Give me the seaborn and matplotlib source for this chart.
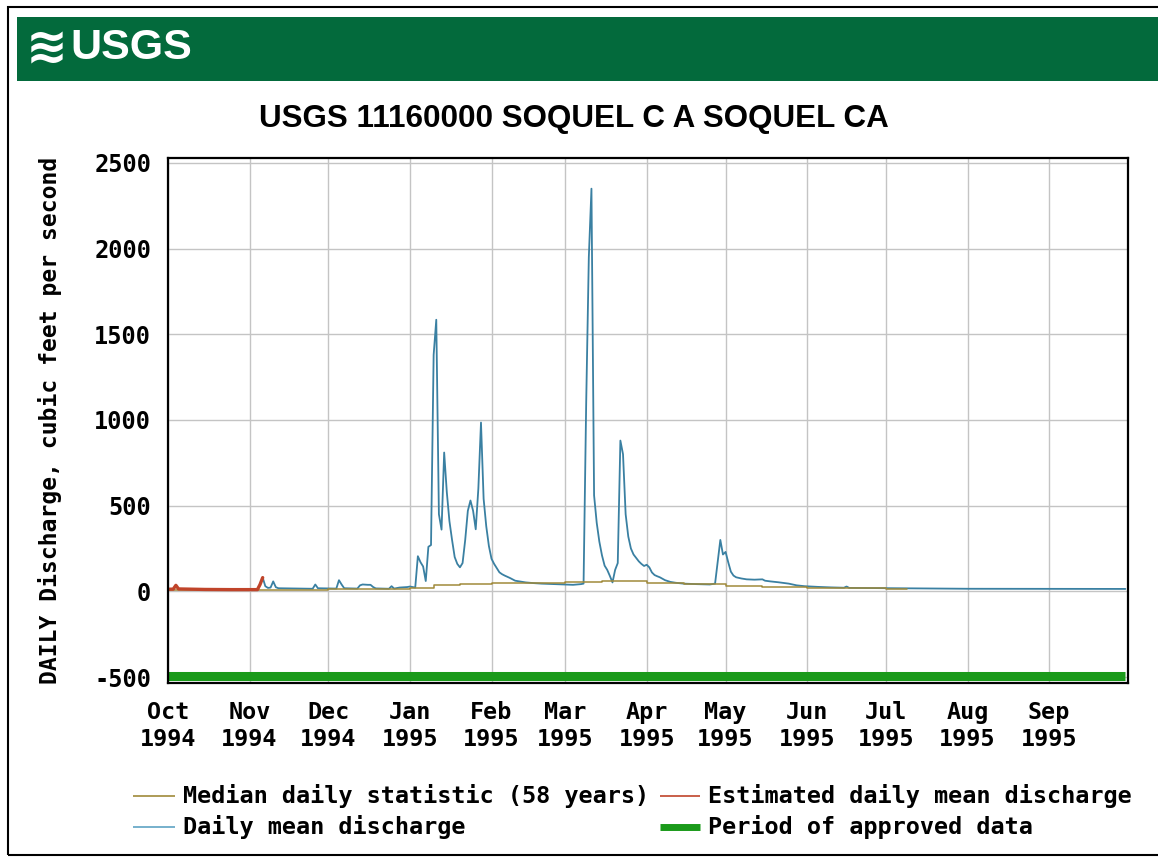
import matplotlib
matplotlib.use('Agg')
import matplotlib.pyplot as plt
import matplotlib.dates as mdates
from matplotlib.patches import Rectangle
from matplotlib.lines import Line2D
import pandas as pd
import seaborn as sns

# --- data (water year 1995, cfs) ---
est_dates = ['1994-10-01', '1994-10-03', '1994-10-04', '1994-10-05', '1994-10-15',
             '1994-10-25', '1994-11-01', '1994-11-04', '1994-11-05', '1994-11-06']
est_cfs = [12, 13, 35, 14, 11, 10, 10, 10, 40, 80]

flow_dates = [
    # Nov - Dec 1994
    '1994-11-06', '1994-11-07', '1994-11-08', '1994-11-09', '1994-11-10', '1994-11-11',
    '1994-11-12', '1994-11-25', '1994-11-26', '1994-11-27', '1994-12-04', '1994-12-05',
    '1994-12-06', '1994-12-07', '1994-12-12', '1994-12-13', '1994-12-14', '1994-12-16',
    '1994-12-17', '1994-12-18', '1994-12-19', '1994-12-24', '1994-12-25', '1994-12-26',
    '1994-12-28', '1994-12-31',
    # Jan 1995
    '1995-01-01', '1995-01-02', '1995-01-03', '1995-01-04', '1995-01-05', '1995-01-06',
    '1995-01-07', '1995-01-08', '1995-01-09', '1995-01-10', '1995-01-11', '1995-01-12',
    '1995-01-13', '1995-01-14', '1995-01-15', '1995-01-16', '1995-01-17', '1995-01-18',
    '1995-01-19', '1995-01-20', '1995-01-21', '1995-01-22', '1995-01-23', '1995-01-24',
    '1995-01-25', '1995-01-26', '1995-01-27', '1995-01-28', '1995-01-29', '1995-01-30',
    '1995-01-31',
    # Feb 1995
    '1995-02-01', '1995-02-02', '1995-02-03', '1995-02-04', '1995-02-05', '1995-02-06',
    '1995-02-07', '1995-02-08', '1995-02-09', '1995-02-10', '1995-02-12', '1995-02-14',
    '1995-02-17', '1995-02-20', '1995-02-25',
    # Mar 1995
    '1995-03-01', '1995-03-04', '1995-03-07', '1995-03-08', '1995-03-09', '1995-03-10',
    '1995-03-11', '1995-03-12', '1995-03-13', '1995-03-14', '1995-03-15', '1995-03-16',
    '1995-03-17', '1995-03-18', '1995-03-19', '1995-03-20', '1995-03-21', '1995-03-22',
    '1995-03-23', '1995-03-24', '1995-03-25', '1995-03-26', '1995-03-27', '1995-03-28',
    '1995-03-29', '1995-03-30', '1995-03-31',
    # Apr 1995
    '1995-04-01', '1995-04-02', '1995-04-03', '1995-04-04', '1995-04-05', '1995-04-06',
    '1995-04-08', '1995-04-10', '1995-04-12', '1995-04-15', '1995-04-20', '1995-04-25',
    '1995-04-27', '1995-04-28', '1995-04-29', '1995-04-30',
    # May - Sep 1995
    '1995-05-01', '1995-05-02', '1995-05-03', '1995-05-04', '1995-05-05', '1995-05-07',
    '1995-05-09', '1995-05-12', '1995-05-15', '1995-05-16', '1995-05-18', '1995-05-21',
    '1995-05-25', '1995-05-28', '1995-05-31', '1995-06-05', '1995-06-10', '1995-06-15',
    '1995-06-16', '1995-06-17', '1995-06-25', '1995-07-01', '1995-07-09', '1995-07-15',
    '1995-08-01', '1995-09-30',
]
flow_cfs = [
    80, 30, 20, 22, 58, 24,
    18, 15, 40, 18, 16, 65,
    40, 18, 16, 35, 40, 38,
    38, 25, 17, 15, 30, 16,
    22, 25,
    28, 25, 22, 205, 170, 145,
    60, 260, 270, 1380, 1585, 450,
    360, 810, 580, 410, 300, 200,
    160, 140, 165, 300, 470, 530,
    470, 362, 600, 985, 540, 380,
    265,
    190, 160, 135, 111, 100, 92,
    85, 78, 70, 62, 57, 52,
    48, 45, 42,
    40, 38, 42, 45, 1100, 1950,
    2350, 560, 400, 290, 210, 150,
    125, 90, 52, 125, 165, 880,
    800, 450, 320, 250, 215, 195,
    175, 160, 148,
    155, 140, 110, 95, 88, 82,
    65, 55, 50, 45, 42, 40,
    45, 170, 300, 215,
    230, 170, 115, 92, 82, 75,
    70, 68, 70, 62, 58, 53,
    45, 35, 30, 26, 23, 21,
    28, 20, 19, 18, 17, 16,
    15, 14,
]

median_dates = ['1994-10-01', '1994-11-01', '1994-12-01', '1994-12-15', '1995-01-01',
                '1995-01-10', '1995-01-20', '1995-02-01', '1995-02-15', '1995-03-01',
                '1995-03-15', '1995-04-01', '1995-04-15', '1995-05-01', '1995-05-15',
                '1995-06-01', '1995-06-15', '1995-07-01', '1995-07-09']
median_cfs = [9, 10, 13, 16, 22, 36, 42, 48, 50, 52, 58, 48, 40, 33, 26, 20, 17, 14, 13]

approved_dates = ['1994-10-01', '1995-09-30']
approved_level = [-492, -492]

month_starts = pd.date_range('1994-10-01', '1995-09-01', freq='MS')
month_labels = [d.strftime('%b') + '\n' + d.strftime('%Y') for d in month_starts]
y_ticks = [-500, 0, 500, 1000, 1500, 2000, 2500]

title = 'USGS 11160000 SOQUEL C A SOQUEL CA'
ylabel = 'DAILY Discharge, cubic feet per second'

c_median = '#a08a3a'
c_est = '#c0442a'
c_flow = '#3a80a2'
c_approved = '#1a9a1a'
c_header = '#036a3c'

sns.set_style('white')
mono = ['DejaVu Sans Mono']
narrow = ['Liberation Sans Narrow', 'Liberation Sans', 'DejaVu Sans']
plt.rcParams['font.family'] = mono
for key in ['text.color', 'axes.labelcolor', 'xtick.color', 'ytick.color']:
    plt.rcParams[key] = 'black'

W, H = 1158, 863
fig = plt.figure(figsize=(W / 100, H / 100), dpi=100)
fx = lambda px: px / W
fy = lambda py: 1 - py / H

# frame and header band
fig.add_artist(Rectangle((fx(8), fy(855)), 2, fy(7) - fy(855), transform=fig.transFigure,
                         fill=False, edgecolor='black', linewidth=1.5))
fig.add_artist(Rectangle((fx(17), fy(81)), 2, fy(17) - fy(81), transform=fig.transFigure,
                         facecolor=c_header, edgecolor='none'))
fig.text(fx(47), fy(49), '\u224b', color='white', fontsize=36, fontweight='bold',
         ha='center', va='center', family=['DejaVu Sans'])
fig.text(fx(70), fy(48), 'USGS', color='white', fontsize=31, fontweight='bold',
         ha='left', va='center', family=narrow)
fig.text(fx(574), fy(119), title, fontsize=22.6, fontweight='bold', ha='center',
         va='center', family=narrow)

ax = fig.add_axes([fx(168), fy(683), fx(1128) - fx(168), fy(158) - fy(683)])

flow = pd.DataFrame({'date': pd.to_datetime(flow_dates), 'cfs': flow_cfs})
est = pd.DataFrame({'date': pd.to_datetime(est_dates), 'cfs': est_cfs})
med = pd.DataFrame({'date': pd.to_datetime(median_dates), 'cfs': median_cfs})
appr = pd.DataFrame({'date': pd.to_datetime(approved_dates), 'cfs': approved_level})

sns.lineplot(data=appr, x='date', y='cfs', ax=ax, color=c_approved, linewidth=6.5,
             estimator=None, solid_capstyle='butt')
sns.lineplot(data=flow, x='date', y='cfs', ax=ax, color=c_flow, linewidth=1.3,
             estimator=None)
sns.lineplot(data=med, x='date', y='cfs', ax=ax, color=c_median, linewidth=1.1,
             estimator=None, drawstyle='steps-post')
sns.lineplot(data=est, x='date', y='cfs', ax=ax, color=c_est, linewidth=2.4,
             estimator=None)

ax.set_xlim(pd.Timestamp('1994-10-01'), pd.Timestamp('1995-10-01'))
ax.set_ylim(-535, 2529)
ax.set_xticks(month_starts)
ax.set_xticklabels(month_labels, fontsize=16.8, fontweight='bold', linespacing=1.2)
ax.set_yticks(y_ticks)
ax.set_yticklabels([str(v) for v in y_ticks], fontsize=17, fontweight='bold')
ax.tick_params(axis='both', length=0)
ax.tick_params(axis='x', pad=13)
ax.tick_params(axis='y', pad=12)
ax.grid(True, color='#c4c4c4', linewidth=1.0)
ax.set_axisbelow(True)
for s in ax.spines.values():
    s.set_color('black')
    s.set_linewidth(1.6)
ax.set_xlabel('')
ax.set_ylabel(ylabel, fontsize=16.6, fontweight='bold')
ax.yaxis.set_label_coords(-0.110, 0.5)

# legend drawn below the plot
items = [
    (133, 175, 796, c_median, 1.2, 'Median daily statistic (58 years)'),
    (660, 700, 796, c_est, 1.2, 'Estimated daily mean discharge'),
    (133, 175, 827, '#5fa3c4', 1.2, 'Daily mean discharge'),
    (660, 700, 827, c_approved, 5.0, 'Period of approved data'),
]
for x0, x1, yy, col, lw, lab in items:
    fig.add_artist(Line2D([fx(x0), fx(x1)], [fy(yy), fy(yy)], transform=fig.transFigure,
                          color=col, linewidth=lw, solid_capstyle='butt'))
    fig.text(fx(x1 + 8), fy(yy), lab, fontsize=16.9, fontweight='bold', ha='left',
             va='center', family=mono)

fig.savefig('out.png', dpi=100)
